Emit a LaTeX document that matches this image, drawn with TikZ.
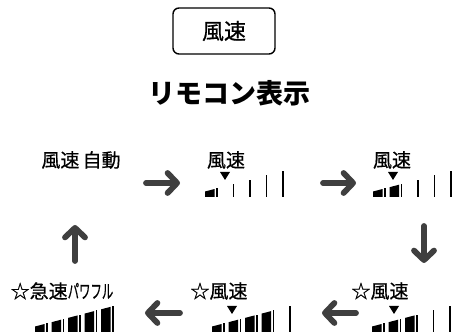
\documentclass[tikz,border=0pt]{standalone}
\usepackage{fontspec}
\newfontfamily\jp[FakeBold=0.6]{Noto Sans CJK JP}
\newfontfamily\jpb{Noto Sans CJK JP}
\usetikzlibrary{arrows.meta}
\definecolor{arrowgray}{HTML}{3F3F3F}
% fan speed indicator: left x, bottom y, number of filled steps
\newcommand{\fanlevel}[3]{%
  \foreach \k in {0,...,4}{%
    \pgfmathsetmacro{\xa}{#1+16.5*\k}%
    \pgfmathsetmacro{\xb}{\xa+9.5}%
    \pgfmathsetmacro{\xc}{\xa+11}%
    \ifnum\k<#3\relax
      \fill (\xa,#2) -- (\xb,#2) -- (\xb,{#2+5.5+0.26*(\xb-#1)}) -- (\xa,{#2+5.5+0.26*(\xa-#1)}) -- cycle;
    \fi
    \fill (\xc,#2) rectangle ({\xc+1.8},{#2+5.5+0.26*(\xc+1.8-#1)});
  }}
\newcommand{\marker}[2]{\fill ({#1-5},{#2+4}) -- ({#1+5},{#2+4}) -- (#1,{#2-4}) -- cycle;}
\begin{document}
\begin{tikzpicture}[x=1pt,y=1pt,
  key/.style={draw,rounded corners=6pt,line width=1.4pt,minimum width=102pt,minimum height=46pt,font=\jp\fontsize{22}{25}\selectfont},
  head/.style={font=\jpb\bfseries\fontsize{27}{30}\selectfont},
  lbl/.style={font=\jp\fontsize{19}{22}\selectfont,inner sep=0pt},
  flow/.style={-{Straight Barb[length=9.5pt,width=20pt,round]},line width=5.8pt,line cap=round,arrowgray}]
\useasboundingbox (0,0) rectangle (453,334);
\node[key] (key) at (224,303) {風速};
\node[head] (title) at (229,241) {リモコン表示};
\node[lbl] (auto) at (81,174) {風速\,自動};
\node[lbl] (low) at (226,174) {風速};
\node[lbl] (mid) at (392,174) {風速};
\node[lbl] (high) at (380,43) {☆風速};
\node[lbl] (top) at (219,43) {☆風速};
\node[lbl] (power) at (62,43) {☆急速\scalebox{0.6}[1]{パワフル}};
\fanlevel{205}{137}{1}
\fanlevel{373}{137}{2}
\fanlevel{372}{2}{3}
\fanlevel{212}{2}{4}
\fanlevel{35}{2}{5}
\marker{225}{158}
\marker{393}{158}
\marker{394}{24}
\marker{232}{24}
\coordinate (a1) at (146,151); \coordinate (a2) at (180,151);
\coordinate (b1) at (323,151); \coordinate (b2) at (356,151);
\coordinate (c1) at (424,108); \coordinate (c2) at (424,71);
\coordinate (d1) at (356,21);  \coordinate (d2) at (322,21);
\coordinate (e1) at (180,21);  \coordinate (e2) at (145,21);
\coordinate (f1) at (75,73);   \coordinate (f2) at (75,109);
\foreach \from/\to in {a1/a2,b1/b2,c1/c2,d1/d2,e1/e2,f1/f2}
  \draw[flow] (\from)--(\to);
\end{tikzpicture}
\end{document}
